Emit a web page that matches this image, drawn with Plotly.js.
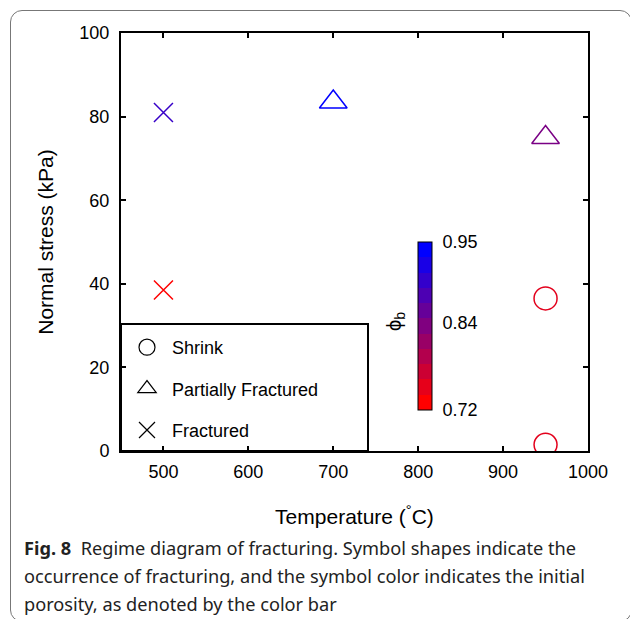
<!DOCTYPE html>
<html>
<head>
<meta charset="utf-8">
<script src="https://cdn.plot.ly/plotly-3.0.1.min.js"></script>
<style>
html,body{margin:0;padding:0;background:#fff;overflow:hidden;}
#frame{position:absolute;left:10px;top:10px;width:622px;height:612px;border:1px solid #777;border-radius:12px;box-sizing:border-box;}
#plot{position:absolute;left:0;top:0;width:630px;height:619px;}
</style>
</head>
<body>
<div id="frame"></div>
<div id="plot"></div>
<script>
// Data
var shrinkT = [950, 950];
var shrinkS = [36.5, 1.5];
var shrinkPhi = [0.745, 0.745];

var partialT = [700, 950];
var partialS = [83.5, 75];
var partialPhi = [0.95, 0.84];

var fracT = [500, 500];
var fracS = [81, 38.5];
var fracPhi = [0.90, 0.72];

var cbTicks = [0.72, 0.84, 0.95];
var cbTickText = ['0.72', '0.84', '0.95'];
var phiMin = 0.72, phiMax = 0.95;

// continuous red->blue scale for markers
var contScale = [[0, 'rgb(255,0,0)'], [1, 'rgb(0,0,255)']];
// stepped scale for the color bar (11 bands)
var nb = 11, stepScale = [];
for (var i = 0; i < nb; i++) {
  var t = i / (nb - 1);
  var c = 'rgb(' + Math.round(255 * (1 - t)) + ',0,' + Math.round(255 * t) + ')';
  stepScale.push([i / nb, c]);
  stepScale.push([(i + 1) / nb, c]);
}

var font = 'Liberation Sans, Arial, Helvetica, sans-serif';

function dataTrace(x, y, phi, sym, size) {
  return {
    type: 'scatter', mode: 'markers', x: x, y: y, showlegend: false, hoverinfo: 'skip',
    marker: {symbol: sym, size: size, color: phi, cmin: phiMin, cmax: phiMax,
      colorscale: contScale, showscale: false, line: {width: 1.5}}
  };
}
function legTrace(name, sym, grp) {
  return {
    type: 'scatter', mode: 'markers', x: [null], y: [null], name: name, legendgroup: grp,
    marker: {symbol: sym, size: 16, color: 'black', line: {width: 1.2, color: 'black'}}
  };
}

var traces = [
  dataTrace(shrinkT, shrinkS, shrinkPhi, 'circle-open', 23),
  dataTrace(partialT, partialS, partialPhi, 'triangle-up-open', 24),
  dataTrace(fracT, fracS, fracPhi, 'x-thin-open', 19),
  {
    type: 'scatter', mode: 'markers', x: [null, null], y: [null, null], showlegend: false,
    marker: {color: [phiMin, phiMax], cmin: phiMin, cmax: phiMax, colorscale: stepScale, showscale: true,
      colorbar: {x: (418 - 121) / 467, xanchor: 'left', xpad: 0, ypad: 0,
        y: (451 - 326) / 418, yanchor: 'middle', len: 168 / 418, lenmode: 'fraction',
        thickness: 14, thicknessmode: 'pixels', outlinecolor: 'black', outlinewidth: 1,
        tickvals: cbTicks, ticktext: cbTickText, ticks: 'outside', ticklen: 7, tickwidth: 1,
        tickcolor: 'rgba(0,0,0,0)',
        tickfont: {family: font, size: 18, color: 'black'}}}
  },
  legTrace('Shrink', 'circle-open', 'a'),
  legTrace('Partially Fractured', 'triangle-up-open', 'b'),
  legTrace('Fractured', 'x-thin-open', 'c')
];

var axisCommon = {
  showline: true, linecolor: 'black', linewidth: 2, mirror: 'ticks', ticks: 'inside',
  ticklen: 5, tickwidth: 2, tickcolor: 'black', showgrid: false, zeroline: false,
  tickfont: {family: font, size: 18, color: 'black'}
};

var layout = {
  width: 630, height: 619,
  paper_bgcolor: 'rgba(0,0,0,0)', plot_bgcolor: 'white',
  margin: {l: 121, r: 42, t: 33, b: 168, pad: 0},
  font: {family: font, color: 'black'},
  xaxis: Object.assign({}, axisCommon, {range: [450, 1000], dtick: 100, tick0: 0, ticklabelstandoff: 3,
    title: {text: 'Temperature (<sup>°</sup>C)', font: {family: font, size: 21, color: 'black'}, standoff: 29}}),
  yaxis: Object.assign({}, axisCommon, {range: [0, 100], dtick: 20, tick0: 0, ticklabelstandoff: 6,
    title: {text: 'Normal stress (kPa)', font: {family: font, size: 21, color: 'black'}, standoff: 20}}),
  showlegend: true,
  legend: {x: 1 / 467, y: (451 - 329) / 418, xanchor: 'left', yanchor: 'top',
    bgcolor: 'rgba(0,0,0,0)', borderwidth: 0, tracegroupgap: 15, itemwidth: 40,
    font: {family: font, size: 18, color: 'black'}},
  shapes: [{type: 'rect', xref: 'paper', yref: 'paper', x0: 0, x1: (368 - 121) / 467,
    y0: 0, y1: (451 - 324) / 418, line: {color: 'black', width: 2}, fillcolor: 'white', layer: 'below'}],
  annotations: [
    {xref: 'paper', yref: 'paper', x: (395 - 121) / 467, y: (451 - 322) / 418, xanchor: 'center', yanchor: 'middle',
      text: 'ϕ<sub>b</sub>', textangle: -90, showarrow: false, font: {family: font, size: 20, color: 'black'}},
    {xref: 'paper', yref: 'paper', x: (22 - 121) / 467, y: (451 - 548) / 418, xanchor: 'left', yanchor: 'middle',
      showarrow: false, align: 'left',
      text: '<b>Fig. 8</b>  Regime diagram of fracturing. Symbol shapes indicate the',
      font: {family: 'Noto Sans, sans-serif', size: 18.2, color: '#222'}},
    {xref: 'paper', yref: 'paper', x: (22 - 121) / 467, y: (451 - 576) / 418, xanchor: 'left', yanchor: 'middle',
      showarrow: false, align: 'left',
      text: 'occurrence of fracturing, and the symbol color indicates the initial',
      font: {family: 'Noto Sans, sans-serif', size: 18.2, color: '#222'}},
    {xref: 'paper', yref: 'paper', x: (22 - 121) / 467, y: (451 - 604) / 418, xanchor: 'left', yanchor: 'middle',
      showarrow: false, align: 'left',
      text: 'porosity, as denoted by the color bar',
      font: {family: 'Noto Sans, sans-serif', size: 18.2, color: '#222'}}
  ]
};

Plotly.newPlot('plot', traces, layout, {displayModeBar: false, staticPlot: true});
</script>
</body>
</html>
